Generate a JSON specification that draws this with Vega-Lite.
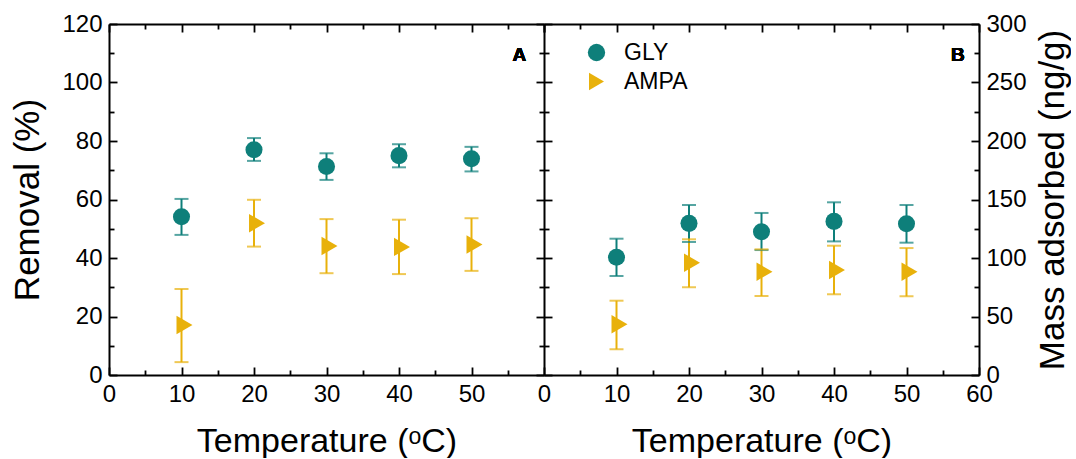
{
  "$schema": "https://vega.github.io/schema/vega-lite/v6.json",
  "background": "white",
  "padding": {"left": 10, "top": 12, "right": 0, "bottom": 0},
  "spacing": 0,
  "bounds": "flush",
  "data": {
    "values": [
      {"panel": "A", "series": "GLY", "T": 10, "val": 54.1, "lo": 47.9, "hi": 60.2},
      {"panel": "A", "series": "GLY", "T": 20, "val": 77.0, "lo": 73.2, "hi": 81.0},
      {"panel": "A", "series": "GLY", "T": 30, "val": 71.3, "lo": 66.7, "hi": 75.8},
      {"panel": "A", "series": "GLY", "T": 40, "val": 75.0, "lo": 71.0, "hi": 78.9},
      {"panel": "A", "series": "GLY", "T": 50, "val": 73.9, "lo": 69.6, "hi": 78.0},
      {"panel": "A", "series": "AMPA", "T": 10, "val": 17.1, "lo": 4.4, "hi": 29.4},
      {"panel": "A", "series": "AMPA", "T": 20, "val": 51.9, "lo": 43.9, "hi": 59.9},
      {"panel": "A", "series": "AMPA", "T": 30, "val": 44.1, "lo": 34.8, "hi": 53.3},
      {"panel": "A", "series": "AMPA", "T": 40, "val": 43.8, "lo": 34.5, "hi": 53.1},
      {"panel": "A", "series": "AMPA", "T": 50, "val": 44.6, "lo": 35.6, "hi": 53.6},
      {"panel": "B", "series": "GLY", "T": 10, "val": 100.6, "lo": 84.6, "hi": 116.5},
      {"panel": "B", "series": "GLY", "T": 20, "val": 129.6, "lo": 113.7, "hi": 145.3},
      {"panel": "B", "series": "GLY", "T": 30, "val": 122.5, "lo": 106.8, "hi": 138.5},
      {"panel": "B", "series": "GLY", "T": 40, "val": 131.3, "lo": 114.2, "hi": 147.6},
      {"panel": "B", "series": "GLY", "T": 50, "val": 129.3, "lo": 113.1, "hi": 145.3},
      {"panel": "B", "series": "AMPA", "T": 10, "val": 43.3, "lo": 22.0, "hi": 63.5},
      {"panel": "B", "series": "AMPA", "T": 20, "val": 96.0, "lo": 75.0, "hi": 116.0},
      {"panel": "B", "series": "AMPA", "T": 30, "val": 88.3, "lo": 67.5, "hi": 107.4},
      {"panel": "B", "series": "AMPA", "T": 40, "val": 89.7, "lo": 69.0, "hi": 110.5},
      {"panel": "B", "series": "AMPA", "T": 50, "val": 88.3, "lo": 67.3, "hi": 108.5}
    ]
  },
  "hconcat": [
    {
      "width": 435,
      "height": 351,
      "transform": [{"filter": "datum.panel === 'A'"}],
      "layer": [
        {
          "mark": {"type": "rule", "strokeWidth": 2},
          "encoding": {
            "x": {"field": "T", "type": "quantitative", "scale": {"domain": [0, 60], "nice": false},
              "axis": {"orient": "bottom", "values": [0, 10, 20, 30, 40, 50], "tickSize": -8, "labelFlush": false,
                "labelPadding": 15, "title": "Temperature (ᵒC)", "titlePadding": 18}},
            "y": {"field": "lo", "type": "quantitative", "scale": {"domain": [0, 120], "nice": false},
              "axis": {"orient": "left", "values": [0, 20, 40, 60, 80, 100, 120], "tickSize": -8, "labelFlush": false,
                "labelPadding": 15, "title": "Removal (%)", "titleFontSize": 35, "titlePadding": 16}},
            "y2": {"field": "hi"},
            "color": {"field": "series", "type": "nominal", "scale": {"domain": ["GLY", "AMPA"], "range": ["#0e7f7a", "#e8b10b"]}, "legend": null}
          }
        },
        {
          "mark": {"type": "tick", "orient": "horizontal", "thickness": 2, "size": 14},
          "encoding": {
            "x": {"field": "T", "type": "quantitative",
              "axis": {"orient": "bottom", "values": [5, 15, 25, 35, 45, 55], "tickSize": -5, "labels": false, "domain": false, "title": null}},
            "y": {"field": "lo", "type": "quantitative",
              "axis": {"orient": "left", "values": [10, 30, 50, 70, 90, 110], "tickSize": -5, "labels": false, "domain": false, "title": null}},
            "color": {"field": "series", "type": "nominal", "legend": null}
          }
        },
        {
          "mark": {"type": "tick", "orient": "horizontal", "thickness": 2, "size": 14},
          "encoding": {
            "x": {"field": "T", "type": "quantitative",
              "axis": {"orient": "top", "values": [0, 10, 20, 30, 40, 50, 60], "tickSize": -8, "labels": false, "title": null}},
            "y": {"field": "hi", "type": "quantitative",
              "axis": {"orient": "right", "values": [0, 20, 40, 60, 80, 100, 120], "tickSize": -8, "labels": false, "title": null}},
            "color": {"field": "series", "type": "nominal", "legend": null}
          }
        },
        {
          "transform": [{"filter": "datum.series === 'GLY'"}],
          "mark": {"type": "point", "filled": true, "opacity": 1, "size": 290},
          "encoding": {
            "x": {"field": "T", "type": "quantitative",
              "axis": {"orient": "top", "values": [5, 15, 25, 35, 45, 55], "tickSize": -5, "labels": false, "domain": false, "title": null}},
            "y": {"field": "val", "type": "quantitative",
              "axis": {"orient": "right", "values": [10, 30, 50, 70, 90, 110], "tickSize": -5, "labels": false, "domain": false, "title": null}},
            "color": {"field": "series", "type": "nominal", "legend": null},
            "shape": {"field": "series", "type": "nominal", "scale": {"domain": ["GLY", "AMPA"], "range": ["circle", "triangle-right"]}, "legend": null}
          }
        },
        {
          "transform": [{"filter": "datum.series === 'AMPA'"}],
          "mark": {"type": "point", "filled": true, "opacity": 1, "size": 340, "xOffset": 3},
          "encoding": {
            "x": {"field": "T", "type": "quantitative", "axis": null},
            "y": {"field": "val", "type": "quantitative", "axis": null},
            "color": {"field": "series", "type": "nominal", "legend": null},
            "shape": {"field": "series", "type": "nominal", "legend": null}
          }
        },
        {
          "mark": {"type": "text", "text": "A", "font": "Liberation Sans", "fontSize": 19, "fontWeight": "bold", "color": "black"},
          "encoding": {
            "x": {"datum": 56.6, "type": "quantitative", "axis": null},
            "y": {"datum": 109.4, "type": "quantitative", "axis": null}
          }
        }
      ],
      "resolve": {"axis": {"x": "independent", "y": "independent"}}
    },
    {
      "width": 435,
      "height": 351,
      "transform": [{"filter": "datum.panel === 'B'"}],
      "layer": [
        {
          "mark": {"type": "rule", "strokeWidth": 2},
          "encoding": {
            "x": {"field": "T", "type": "quantitative", "scale": {"domain": [0, 60], "nice": false},
              "axis": {"orient": "bottom", "values": [0, 10, 20, 30, 40, 50, 60], "tickSize": -8, "labelFlush": false,
                "labelPadding": 15, "title": "Temperature (ᵒC)", "titlePadding": 18}},
            "y": {"field": "lo", "type": "quantitative", "scale": {"domain": [0, 300], "nice": false},
              "axis": {"orient": "right", "values": [0, 50, 100, 150, 200, 250, 300], "tickSize": -8, "labelFlush": false,
                "labelPadding": 15, "title": "Mass adsorbed (ng/g)", "titleFontSize": 35, "titleAngle": 270, "titlePadding": 44}},
            "y2": {"field": "hi"},
            "color": {"field": "series", "type": "nominal", "scale": {"domain": ["GLY", "AMPA"], "range": ["#0e7f7a", "#e8b10b"]}}
          }
        },
        {
          "mark": {"type": "tick", "orient": "horizontal", "thickness": 2, "size": 14},
          "encoding": {
            "x": {"field": "T", "type": "quantitative",
              "axis": {"orient": "bottom", "values": [5, 15, 25, 35, 45, 55], "tickSize": -5, "labels": false, "domain": false, "title": null}},
            "y": {"field": "lo", "type": "quantitative",
              "axis": {"orient": "right", "values": [25, 75, 125, 175, 225, 275], "tickSize": -5, "labels": false, "domain": false, "title": null}},
            "color": {"field": "series", "type": "nominal"}
          }
        },
        {
          "mark": {"type": "tick", "orient": "horizontal", "thickness": 2, "size": 14},
          "encoding": {
            "x": {"field": "T", "type": "quantitative",
              "axis": {"orient": "top", "values": [0, 10, 20, 30, 40, 50, 60], "tickSize": -8, "labels": false, "title": null}},
            "y": {"field": "hi", "type": "quantitative",
              "axis": {"orient": "left", "values": [0, 50, 100, 150, 200, 250, 300], "tickSize": -8, "labels": false, "domain": false, "title": null}},
            "color": {"field": "series", "type": "nominal"}
          }
        },
        {
          "transform": [{"filter": "datum.series === 'GLY'"}],
          "mark": {"type": "point", "filled": true, "opacity": 1, "size": 290},
          "encoding": {
            "x": {"field": "T", "type": "quantitative",
              "axis": {"orient": "top", "values": [5, 15, 25, 35, 45, 55], "tickSize": -5, "labels": false, "domain": false, "title": null}},
            "y": {"field": "val", "type": "quantitative",
              "axis": {"orient": "left", "values": [25, 75, 125, 175, 225, 275], "tickSize": -5, "labels": false, "domain": false, "title": null}},
            "color": {"field": "series", "type": "nominal",
              "legend": {"orient": "none", "legendX": 41, "legendY": 17, "title": null, "symbolSize": 300, "symbolOpacity": 1, "labelFontSize": 23, "labelFont": "Liberation Sans", "labelColor": "black", "rowPadding": 5, "labelOffset": 16, "symbolStrokeWidth": 0,
                "encode": {"symbols": {"update": {"opacity": {"value": 1}, "fillOpacity": {"value": 1}}}}}},
            "shape": {"field": "series", "type": "nominal", "scale": {"domain": ["GLY", "AMPA"], "range": ["circle", "triangle-right"]},
              "legend": {"orient": "none", "legendX": 41, "legendY": 17, "title": null, "symbolSize": 300, "symbolOpacity": 1, "labelFontSize": 23, "labelFont": "Liberation Sans", "labelColor": "black", "rowPadding": 5, "labelOffset": 16, "symbolStrokeWidth": 0,
                "encode": {"symbols": {"update": {"opacity": {"value": 1}, "fillOpacity": {"value": 1}}}}}}
          }
        },
        {
          "transform": [{"filter": "datum.series === 'AMPA'"}],
          "mark": {"type": "point", "filled": true, "opacity": 1, "size": 340, "xOffset": 3},
          "encoding": {
            "x": {"field": "T", "type": "quantitative", "axis": null},
            "y": {"field": "val", "type": "quantitative", "axis": null},
            "color": {"field": "series", "type": "nominal"},
            "shape": {"field": "series", "type": "nominal"}
          }
        },
        {
          "mark": {"type": "text", "text": "B", "font": "Liberation Sans", "fontSize": 19, "fontWeight": "bold", "color": "black"},
          "encoding": {
            "x": {"datum": 57.1, "type": "quantitative", "axis": null},
            "y": {"datum": 273.5, "type": "quantitative", "axis": null}
          }
        }
      ],
      "resolve": {"axis": {"x": "independent", "y": "independent"}}
    }
  ],
  "resolve": {"scale": {"color": "independent", "shape": "independent"}},
  "config": {
    "view": {"stroke": null},
    "axis": {
      "grid": false,
      "domainColor": "black",
      "domainWidth": 2,
      "tickColor": "black",
      "tickWidth": 1.8,
      "labelFont": "Liberation Sans",
      "labelFontSize": 24,
      "labelColor": "black",
      "titleFont": "Liberation Sans",
      "titleFontSize": 34,
      "titleFontWeight": "normal",
      "titleColor": "black"
    }
  }
}
